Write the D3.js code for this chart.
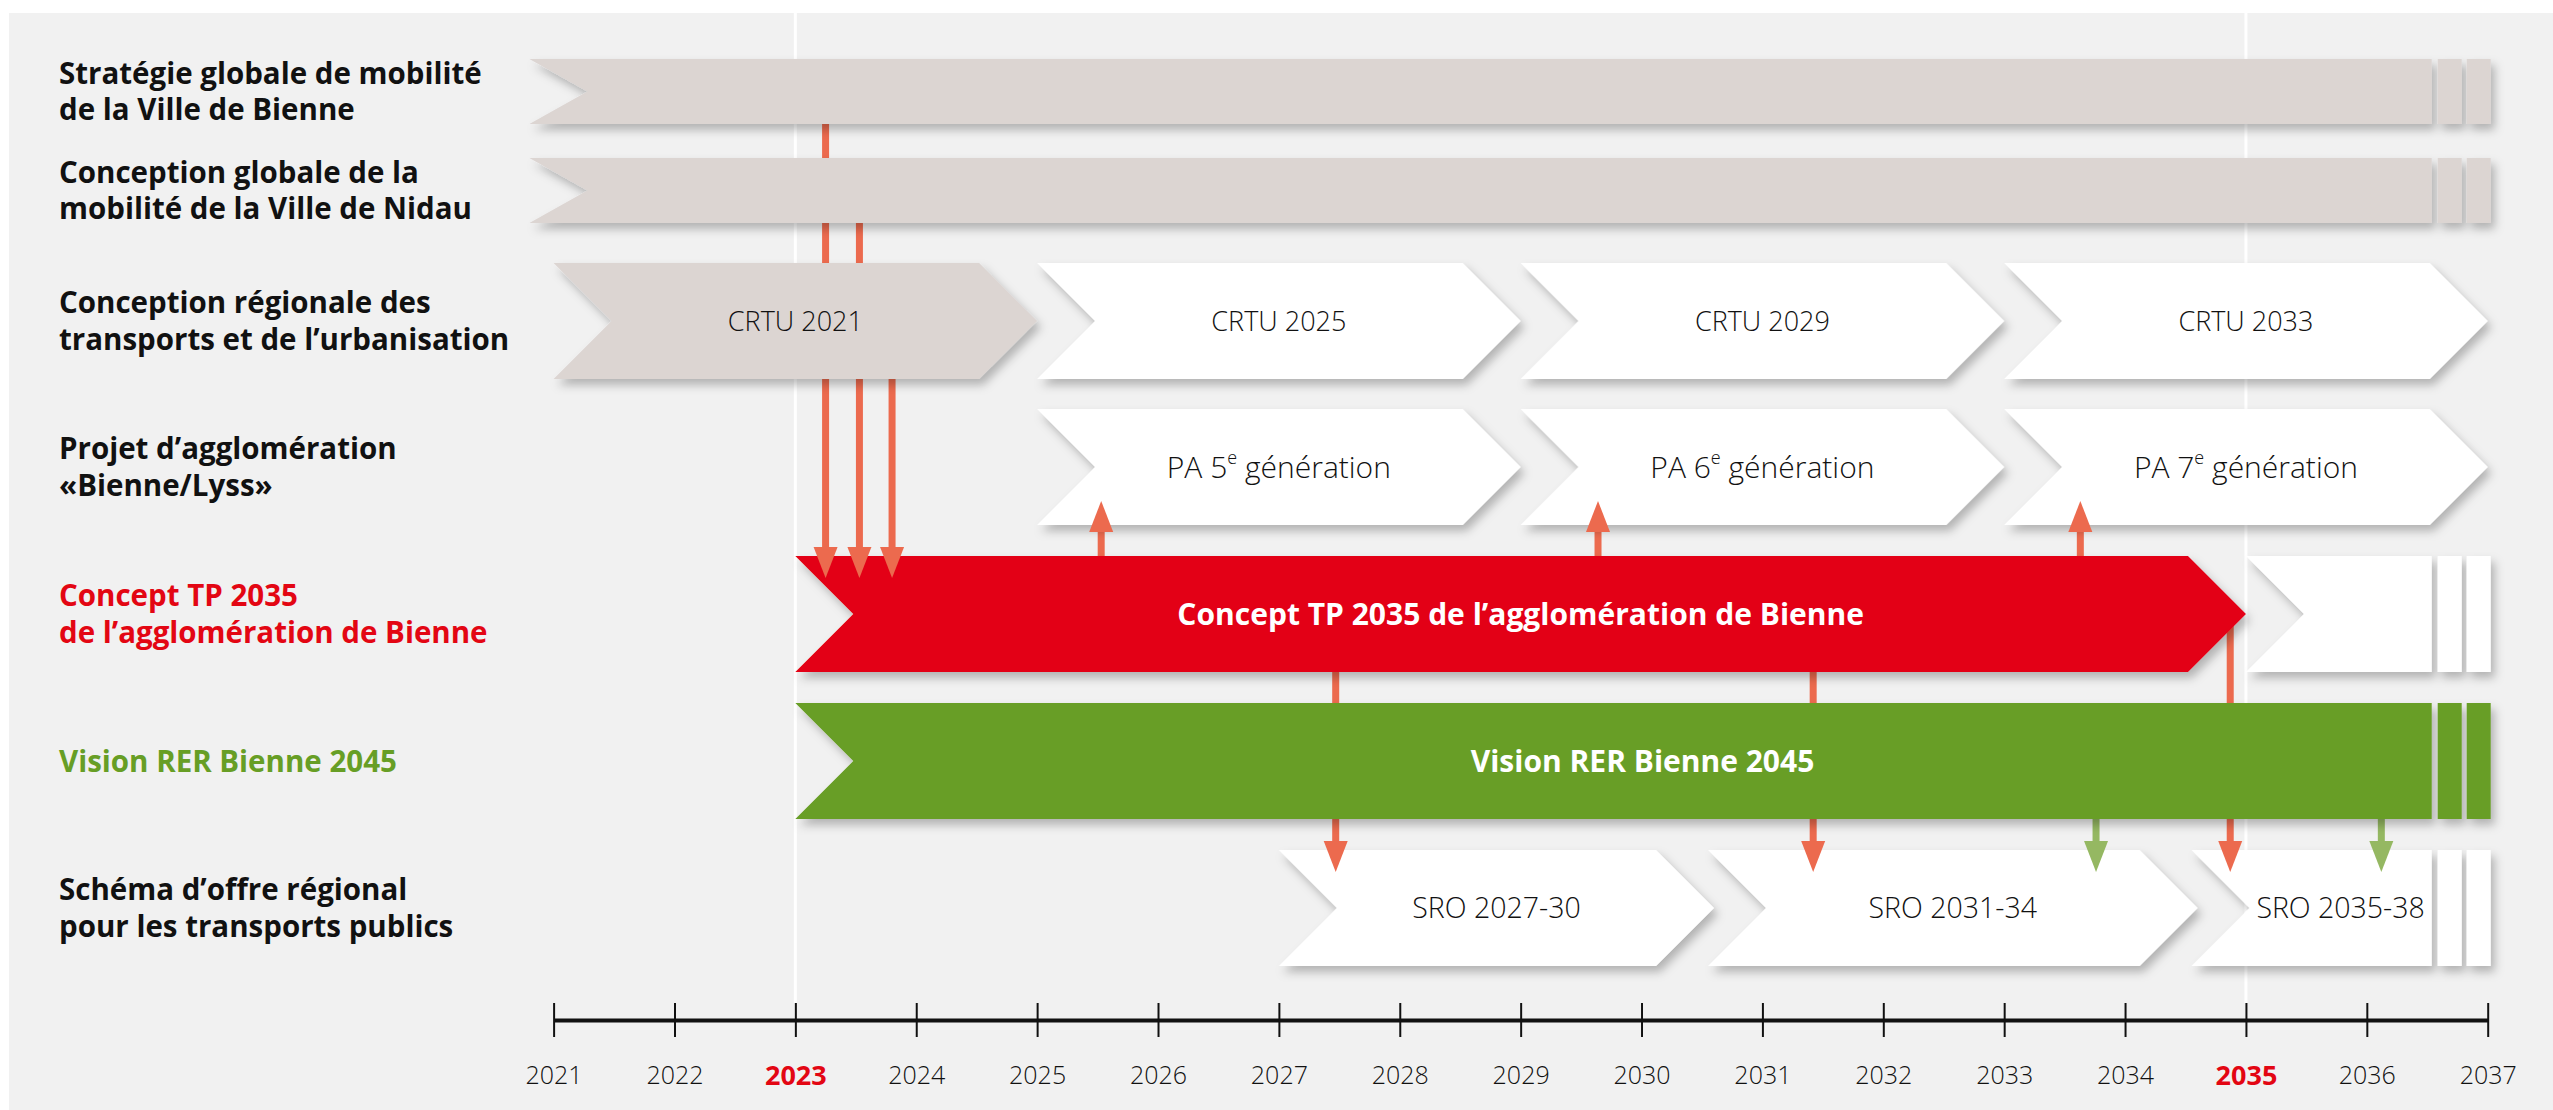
<!DOCTYPE html>
<html>
<head>
<meta charset="utf-8">
<script src="https://cdn.jsdelivr.net/npm/d3@7"></script>
<style>
  body { margin: 0; background: #fff; }
  svg { display: block; }
  text { font-family: "Open Sans", "Noto Sans", sans-serif; }
</style>
</head>
<body>
<div id="chart"></div>
<script>
const width = 2553, height = 1110;

// rows of the timeline, top to bottom
const rowIds = ["strat", "nidau", "crtu", "pa", "tp", "rer", "sro"];
const rowLabels = [
  ["Stratégie globale de mobilité", "de la Ville de Bienne"],
  ["Conception globale de la", "mobilité de la Ville de Nidau"],
  ["Conception régionale des", "transports et de l’urbanisation"],
  ["Projet d’agglomération", "«Bienne/Lyss»"],
  ["Concept TP 2035", "de l’agglomération de Bienne"],
  ["Vision RER Bienne 2045"],
  ["Schéma d’offre régional", "pour les transports publics"]
];
const rowKind = ["plain", "plain", "plain", "plain", "tp", "rer", "plain"];

// bars: start / end in years, cont = continues past the end of the axis
const barRow   = ["strat", "nidau", "crtu", "crtu", "crtu", "crtu", "pa", "pa", "pa", "tp", "tp", "rer", "sro", "sro", "sro"];
const barStart = [2020.8, 2020.8, 2021, 2025, 2029, 2033, 2025, 2029, 2033, 2023, 2035, 2023, 2027, 2030.55, 2034.55];
const barEnd   = [2037, 2037, 2025, 2029, 2033, 2037, 2029, 2033, 2037, 2035, 2037, 2037, 2030.6, 2034.6, 2037];
const barKind  = ["past", "past", "past", "future", "future", "future", "future", "future", "future", "tp", "future", "rer", "future", "future", "future"];
const barCont  = [true, true, false, false, false, false, false, false, false, false, true, true, false, false, true];
const barText  = ["", "", "CRTU 2021", "CRTU 2025", "CRTU 2029", "CRTU 2033", "PA 5|e| génération", "PA 6|e| génération", "PA 7|e| génération",
                  "Concept TP 2035 de l’agglomération de Bienne", "", "Vision RER Bienne 2045", "SRO 2027-30", "SRO 2031-34", "SRO 2035-38"];

// arrows between rows
const linkYear = [2023.25, 2023.53, 2023.8, 2025.53, 2029.64, 2033.63, 2027.47, 2031.42, 2034.87, 2033.76, 2036.12];
const linkFrom = ["strat", "nidau", "crtu", "tp", "tp", "tp", "tp", "tp", "tp", "rer", "rer"];
const linkTo   = ["tp", "tp", "tp", "pa", "pa", "pa", "sro", "sro", "sro", "sro", "sro"];

const years = d3.range(2021, 2038);
const highlightYears = [2023, 2035];

const colors = { past: "#dcd5d2", future: "#ffffff", tp: "#e30613", rer: "#679e25" };
const arrowColors = { tp: "#ec6a4e", rer: "#95b862" };

const svg = d3.select("#chart").append("svg")
  .attr("width", width)
  .attr("height", height);

const defs = svg.append("defs");
defs.append("filter")
  .attr("id", "shadow")
  .attr("x", "-10%").attr("y", "-30%").attr("width", "120%").attr("height", "170%")
  .append("feDropShadow")
  .attr("dx", 4).attr("dy", 6)
  .attr("stdDeviation", 5)
  .attr("flood-color", "#000")
  .attr("flood-opacity", 0.26);

svg.append("rect")
  .attr("x", 9).attr("y", 13)
  .attr("width", width - 9).attr("height", height - 13)
  .attr("fill", "#f1f1f1");

const x = d3.scaleLinear().domain([2021, 2037]).range([553.6, 2487.7]);
const rowTop = d3.scaleOrdinal().domain(rowIds).range([59, 158, 263, 409, 556, 703, 850]);
const rowH = id => (id === "strat" || id === "nidau") ? 65 : 116;
const notch = 58;
const axisY = 1020;

// white guide lines at the highlighted years
svg.append("g")
  .selectAll("line")
  .data(highlightYears)
  .join("line")
  .attr("x1", d => x(d)).attr("x2", d => x(d))
  .attr("y1", 13).attr("y2", axisY - 17)
  .attr("stroke", "#fff")
  .attr("stroke-width", 3);

// arrows
const links = linkYear.map((y, i) => ({ year: y, from: linkFrom[i], to: linkTo[i] }));
links.forEach(l => {
  l.up = rowIds.indexOf(l.to) < rowIds.indexOf(l.from);
  l.color = l.from === "rer" ? arrowColors.rer : arrowColors.tp;
  if (l.up) {
    l.base = rowTop(l.to) + rowH(l.to) + 7;
    l.tip = l.base - 31;
  } else {
    l.base = rowTop(l.to) - 9;
    l.tip = l.base + 31;
  }
  l.start = rowTop(l.from) + rowH(l.from) / 2;
});

svg.append("g")
  .selectAll("line")
  .data(links)
  .join("line")
  .attr("x1", d => x(d.year)).attr("x2", d => x(d.year))
  .attr("y1", d => d.start).attr("y2", d => d.base)
  .attr("stroke", d => d.color)
  .attr("stroke-width", 7);

// bars
const bars = barRow.map((r, i) => ({
  row: r, start: barStart[i], end: barEnd[i], kind: barKind[i], cont: barCont[i], text: barText[i]
}));

function barPath(d) {
  const x0 = x(d.start), x1 = x(d.end);
  const t = rowTop(d.row), h = rowH(d.row), m = t + h / 2, b = t + h;
  if (d.cont) {
    const xe = x1 - 56;
    return `M${x0},${t}L${xe},${t}L${xe},${b}L${x0},${b}L${x0 + notch},${m}Z`;
  }
  return `M${x0},${t}L${x1 - notch},${t}L${x1},${m}L${x1 - notch},${b}L${x0},${b}L${x0 + notch},${m}Z`;
}

const barG = svg.append("g");
bars.forEach(d => {
  const g = barG.append("g").attr("filter", "url(#shadow)");
  g.append("path")
    .attr("d", barPath(d))
    .attr("fill", colors[d.kind]);
  if (d.cont) {
    const x1 = x(d.end);
    [[x1 - 50, x1 - 26], [x1 - 21, x1 + 3]].forEach(s => {
      g.append("rect")
        .attr("x", s[0]).attr("y", rowTop(d.row))
        .attr("width", s[1] - s[0]).attr("height", rowH(d.row))
        .attr("fill", colors[d.kind]);
    });
  }
});

// bar labels
bars.filter(d => d.text).forEach(d => {
  const x0 = x(d.start), x1 = x(d.end);
  const cx = d.cont ? (x0 + notch + x1 - 56) / 2 : (x0 + x1) / 2;
  const bold = d.kind === "tp" || d.kind === "rer";
  const size = bold ? 30 : d.row === "pa" ? 30 : d.row === "sro" ? 28.5 : 27;
  const t = svg.append("text")
    .attr("x", cx)
    .attr("y", rowTop(d.row) + rowH(d.row) / 2)
    .attr("dy", "0.36em")
    .attr("text-anchor", "middle")
    .attr("font-size", size)
    .attr("font-weight", bold ? 700 : 300)
    .attr("fill", bold ? "#fff" : "#111");
  const parts = d.text.split("|");
  parts.forEach((p, j) => {
    if (j === 1) {
      t.append("tspan").attr("font-size", 18).attr("dy", "-0.75em").text(p);
    } else if (j === 2) {
      t.append("tspan").attr("dy", "0.45em").text(p);
    } else {
      t.append("tspan").text(p);
    }
  });
});

// arrow heads on top
svg.append("g")
  .selectAll("path")
  .data(links)
  .join("path")
  .attr("d", d => {
    const cx = x(d.year);
    return `M${cx - 12},${d.base}L${cx + 12},${d.base}L${cx},${d.tip}Z`;
  })
  .attr("fill", d => d.color);

// row labels
const labelColors = { plain: "#111", tp: "#e30613", rer: "#679e25" };
svg.append("g")
  .selectAll("text")
  .data(rowIds)
  .join("text")
  .attr("x", 59)
  .attr("font-size", 29.5)
  .attr("font-weight", 700)
  .attr("fill", (d, i) => labelColors[rowKind[i]])
  .each(function (d, i) {
    const lines = rowLabels[i];
    const mid = rowTop(d) + rowH(d) / 2;
    const lh = 36.5;
    d3.select(this).selectAll("tspan")
      .data(lines)
      .join("tspan")
      .attr("x", 59)
      .attr("y", (l, j) => mid + (j - (lines.length - 1) / 2) * lh)
      .attr("dy", "0.36em")
      .text(l => l);
  });

// time axis
const axis = d3.axisBottom(x)
  .tickValues(years)
  .tickFormat(d3.format("d"))
  .tickSize(17)
  .tickSizeOuter(0);

const ax = svg.append("g")
  .attr("transform", `translate(0,${axisY})`)
  .call(axis);

ax.select(".domain").attr("stroke", "#111").attr("stroke-width", 4);
ax.selectAll(".tick line")
  .attr("y1", -17).attr("y2", 17)
  .attr("stroke", "#111")
  .attr("stroke-width", 2);
ax.selectAll(".tick text")
  .attr("y", 55)
  .attr("dy", "0.36em")
  .attr("font-family", "'Open Sans', sans-serif")
  .attr("font-size", d => highlightYears.includes(d) ? 27 : 25)
  .attr("font-weight", d => highlightYears.includes(d) ? 700 : 300)
  .attr("fill", d => highlightYears.includes(d) ? "#e30613" : "#111");
</script>
</body>
</html>
